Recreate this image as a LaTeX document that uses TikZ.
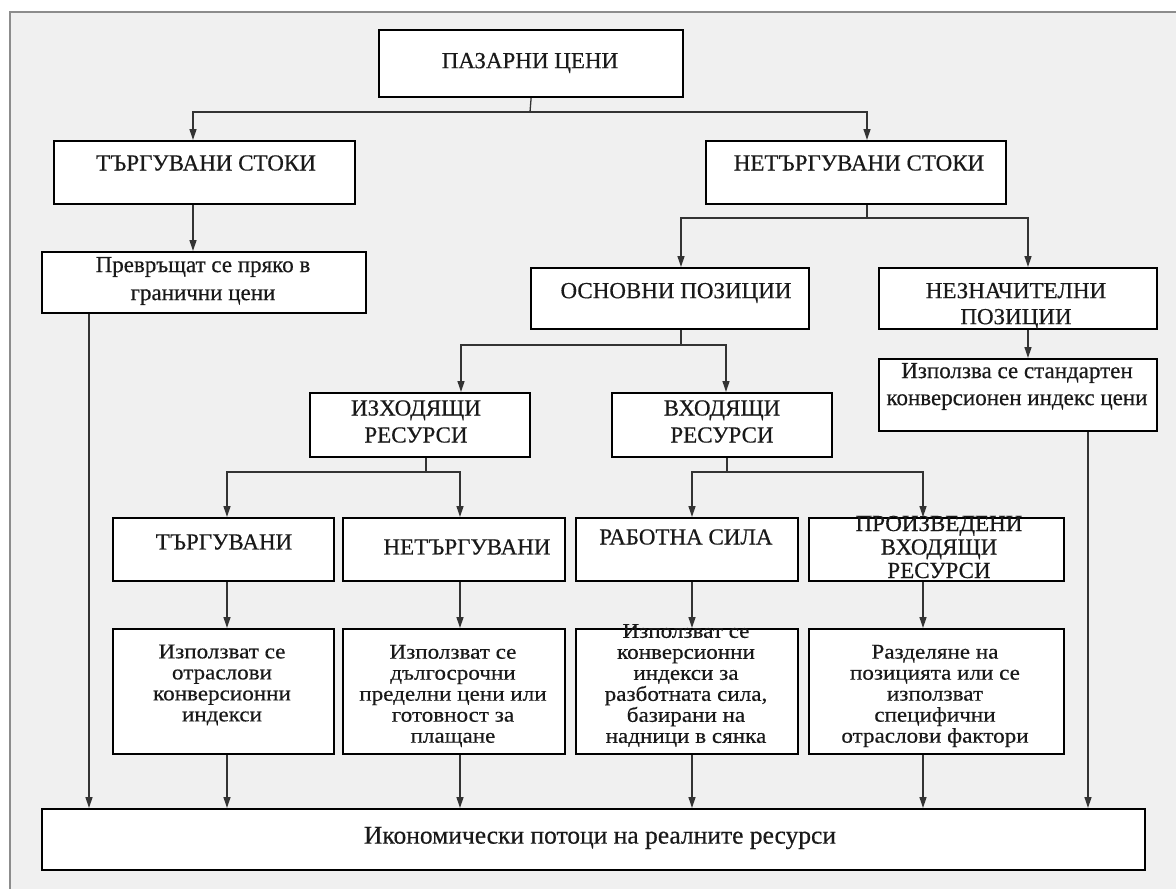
\documentclass[tikz,border=0pt]{standalone}
\usepackage{fontspec}
\setmainfont{Liberation Serif}[FakeBold=0.4]
\usetikzlibrary{arrows.meta}
\begin{document}
\begin{tikzpicture}[x=1pt,y=-1pt,
  box/.style={draw=black, line width=2.2pt, fill=white, inner sep=0pt, anchor=north west},
  txt/.style={align=center, inner sep=0pt, text=black!90, font=\fontsize{23}{20.5}\selectfont},
  small/.style={txt, font=\fontsize{21}{21}\selectfont\addfontfeature{FakeStretch=1.1}},
  conn/.style={draw=black!80, line width=1.3pt},
  arr/.style={conn, -{Triangle[length=11pt,width=7pt]}},
]
\useasboundingbox (0,0) rectangle (1176,889);
\fill[white] (0,0) rectangle (1176,889);
\fill[black!6] (10,12) rectangle (1176,889);
\draw[black!45, line width=1.5pt] (10,889) -- (10,12) -- (1176,12);

% boxes: name, x1, y1, x2, y2
\newcommand\bx[5]{\node[box, minimum width=#4pt-#2pt, minimum height=#5pt-#3pt] (#1) at (#2,#3) {};}
\bx{p}{378}{29}{682}{96}
\bx{ts}{53}{140}{354}{203}
\bx{ns}{705}{140}{1005}{203}
\bx{pr}{41}{251}{365}{312}
\bx{op}{530}{267}{808}{328}
\bx{np}{878}{267}{1156}{328}
\bx{is}{878}{358}{1156}{430}
\bx{ir}{309}{392}{529}{456}
\bx{vr}{611}{392}{831}{456}
\bx{t}{112}{517}{333}{580}
\bx{nt}{342}{517}{564}{580}
\bx{rs}{575}{517}{797}{580}
\bx{pv}{808}{517}{1063}{580}
\bx{la}{112}{628}{333}{753}
\bx{lb}{342}{628}{564}{753}
\bx{lc}{575}{628}{797}{753}
\bx{ld}{808}{628}{1063}{753}
\bx{b}{41}{808}{1144}{869}

% texts
\node[txt] (p-t) at (530,63) {ПАЗАРНИ ЦЕНИ};
\node[txt] (ts-t) at (206,163) {ТЪРГУВАНИ СТОКИ};
\node[txt] (ns-t) at (859,163) {НЕТЪРГУВАНИ СТОКИ};
\node[txt, font=\fontsize{23}{28}\selectfont] (pr-t) at (203,281) {Превръщат се пряко в\\гранични цени};
\node[txt] (op-t) at (676,293) {ОСНОВНИ ПОЗИЦИИ};
\node[txt, font=\fontsize{23}{26}\selectfont] (np-t) at (1016,306) {НЕЗНАЧИТЕЛНИ\\ПОЗИЦИИ};
\node[txt, font=\fontsize{23}{27}\selectfont] (is-t) at (1017,386.5) {Използва се стандартен\\конверсионен индекс цени};
\node[txt, font=\fontsize{23}{27}\selectfont] (ir-t) at (416,421.5) {ИЗХОДЯЩИ\\РЕСУРСИ};
\node[txt, font=\fontsize{23}{27}\selectfont] (vr-t) at (722,421.5) {ВХОДЯЩИ\\РЕСУРСИ};
\node[txt] (t-t) at (224,542) {ТЪРГУВАНИ};
\node[txt] (nt-t) at (467,547) {НЕТЪРГУВАНИ};
\node[txt] (rs-t) at (686,537) {РАБОТНА СИЛА};
\node[txt, font=\fontsize{23}{23.5}\selectfont] (pv-t) at (939,547) {ПРОИЗВЕДЕНИ\\ВХОДЯЩИ\\РЕСУРСИ};
\node[small] (la-t) at (222,685) {Използват се\\отраслови\\конверсионни\\индекси};
\node[small] (lb-t) at (453,696) {Използват се\\дългосрочни\\пределни цени или\\готовност за\\плащане};
\node[small] (lc-t) at (686,685.5) {Използват се\\конверсионни\\индекси за\\разботната сила,\\базирани на\\надници в сянка};
\node[small] (ld-t) at (935,696) {Разделяне на\\позицията или се\\използват\\специфични\\отраслови фактори};
\node[txt, font=\fontsize{25.5}{26}\selectfont] (b-t) at (600,838) {Икономически потоци на реалните ресурси};

% x positions of connectors
\coordinate (ka) at (193,0);
\coordinate (kb) at (867,0);
\coordinate (kc) at (89,0);
\coordinate (kd) at (681,0);
\coordinate (ke) at (1028,0);
\coordinate (kf) at (1088,0);
\coordinate (kg) at (461,0);
\coordinate (kh) at (726,0);
\coordinate (ki) at (227,0);
\coordinate (kj) at (460,0);
\coordinate (kk) at (692,0);
\coordinate (kl) at (923,0);
\coordinate (j1) at (530,112);
\coordinate (j2) at (867,218);
\coordinate (j3) at (681,345);
\coordinate (j4) at (426,472);
\coordinate (j5) at (727,472);

% connectors
\draw[conn] (p.south) -- (j1);
\draw[arr] (j1) -| (ka |- ts.north);
\draw[arr] (j1) -| (kb |- ns.north);
\draw[arr] (ka |- ts.south) -- (ka |- pr.north);
\draw[arr] (kc |- pr.south) -- (kc |- b.north);
\draw[conn] (kb |- ns.south) -- (j2);
\draw[arr] (j2) -| (kd |- op.north);
\draw[arr] (j2) -| (ke |- np.north);
\draw[arr] (ke |- np.south) -- (ke |- is.north);
\draw[arr] (kf |- is.south) -- (kf |- b.north);
\draw[conn] (kd |- op.south) -- (j3);
\draw[arr] (j3) -| (kg |- ir.north);
\draw[arr] (j3) -| (kh |- vr.north);
\draw[conn] (j4 |- ir.south) -- (j4);
\draw[arr] (j4) -| (ki |- t.north);
\draw[arr] (j4) -| (kj |- nt.north);
\draw[conn] (j5 |- vr.south) -- (j5);
\draw[arr] (j5) -| (kk |- rs.north);
\draw[arr] (j5) -| (kl |- pv.north);
\draw[arr] (ki |- t.south) -- (ki |- la.north);
\draw[arr] (kj |- nt.south) -- (kj |- lb.north);
\draw[arr] (kk |- rs.south) -- (kk |- lc.north);
\draw[arr] (kl |- pv.south) -- (kl |- ld.north);
\draw[arr] (ki |- la.south) -- (ki |- b.north);
\draw[arr] (kj |- lb.south) -- (kj |- b.north);
\draw[arr] (kk |- lc.south) -- (kk |- b.north);
\draw[arr] (kl |- ld.south) -- (kl |- b.north);
\end{tikzpicture}
\end{document}
